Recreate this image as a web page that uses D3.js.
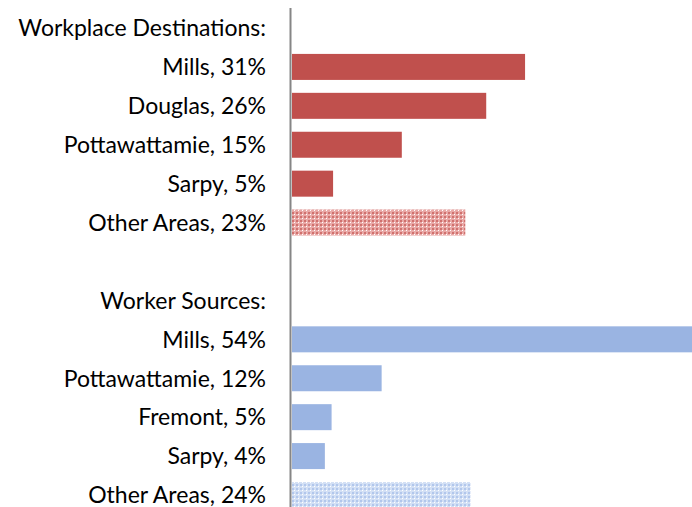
<!DOCTYPE html>
<html>
<head>
	<script src="https://cdn.jsdelivr.net/npm/d3@7/dist/d3.min.js"></script>
	<style>
		body { margin: 0; background: #fff; }
		text { font-family: Lato, "Open Sans", sans-serif; fill: #000; }
	</style>
</head>
<body>
	<script>
		// chart data
		var destHeader = 'Workplace Destinations:';
		var destLabels = ['Mills, 31%', 'Douglas, 26%', 'Pottawattamie, 15%', 'Sarpy, 5%', 'Other Areas, 23%'];
		var destValues = [31.2, 26.0, 14.7, 5.5, 23.2];

		var srcHeader = 'Worker Sources:';
		var srcLabels = ['Mills, 54%', 'Pottawattamie, 12%', 'Fremont, 5%', 'Sarpy, 4%', 'Other Areas, 24%'];
		var srcValues = [54.0, 12.0, 5.3, 4.4, 23.9];

		var width = 692, height = 507;

		// one row per line of the chart, headers and the gap included
		var rows = [];
		rows.push({ id: 'h1', label: destHeader });
		destLabels.forEach(function (l, i) {
			rows.push({ id: 'd' + i, label: l, value: destValues[i], group: 'dest', other: i === destLabels.length - 1 });
		});
		rows.push({ id: 'gap', label: '' });
		rows.push({ id: 'h2', label: srcHeader });
		srcLabels.forEach(function (l, i) {
			rows.push({ id: 's' + i, label: l, value: srcValues[i], group: 'src', other: i === srcLabels.length - 1 });
		});

		var svg = d3.select('body').append('svg')
			.attr('width', width)
			.attr('height', height);

		var defs = svg.append('defs');
		function checker(id, light, dark) {
			var p = defs.append('pattern')
				.attr('id', id)
				.attr('width', 4)
				.attr('height', 4)
				.attr('patternUnits', 'userSpaceOnUse');
			p.append('rect').attr('width', 4).attr('height', 4).attr('fill', light);
			p.append('rect').attr('width', 2).attr('height', 2).attr('fill', dark);
			p.append('rect').attr('x', 2).attr('y', 2).attr('width', 1).attr('height', 1).attr('fill', '#fff');
		}
		checker('redCheck', '#e9a9a7', '#d0716e');
		checker('blueCheck', '#d3e0f5', '#b2c7ec');

		var fills = {
			dest: { solid: '#c0504d', other: 'url(#redCheck)' },
			src: { solid: '#9ab4e2', other: 'url(#blueCheck)' }
		};

		var x = d3.scaleLinear().domain([0, 100]).range([292, 292 + 747]);
		var y = d3.scalePoint().domain(rows.map(function (d) { return d.id; })).range([28, 495]);
		var barH = 26;

		svg.selectAll('rect.bar')
			.data(rows.filter(function (d) { return d.value != null; }))
			.enter().append('rect')
			.attr('class', 'bar')
			.attr('x', x(0))
			.attr('y', function (d) { return y(d.id) - barH / 2; })
			.attr('width', function (d) { return Math.min(x(d.value), width) - x(0); })
			.attr('height', barH)
			.attr('fill', function (d) { return d.other ? fills[d.group].other : fills[d.group].solid; });

		svg.selectAll('text.lab')
			.data(rows)
			.enter().append('text')
			.attr('class', 'lab')
			.attr('x', 266)
			.attr('y', function (d) { return y(d.id); })
			.attr('dy', '0.36em')
			.attr('text-anchor', 'end')
			.style('font-size', '23px')
			.text(function (d) { return d.label; });

		// vertical axis line
		svg.append('line')
			.attr('x1', 290.5).attr('x2', 290.5)
			.attr('y1', 8).attr('y2', height)
			.attr('stroke', '#868686')
			.attr('stroke-width', 2);
	</script>
</body>
</html>
